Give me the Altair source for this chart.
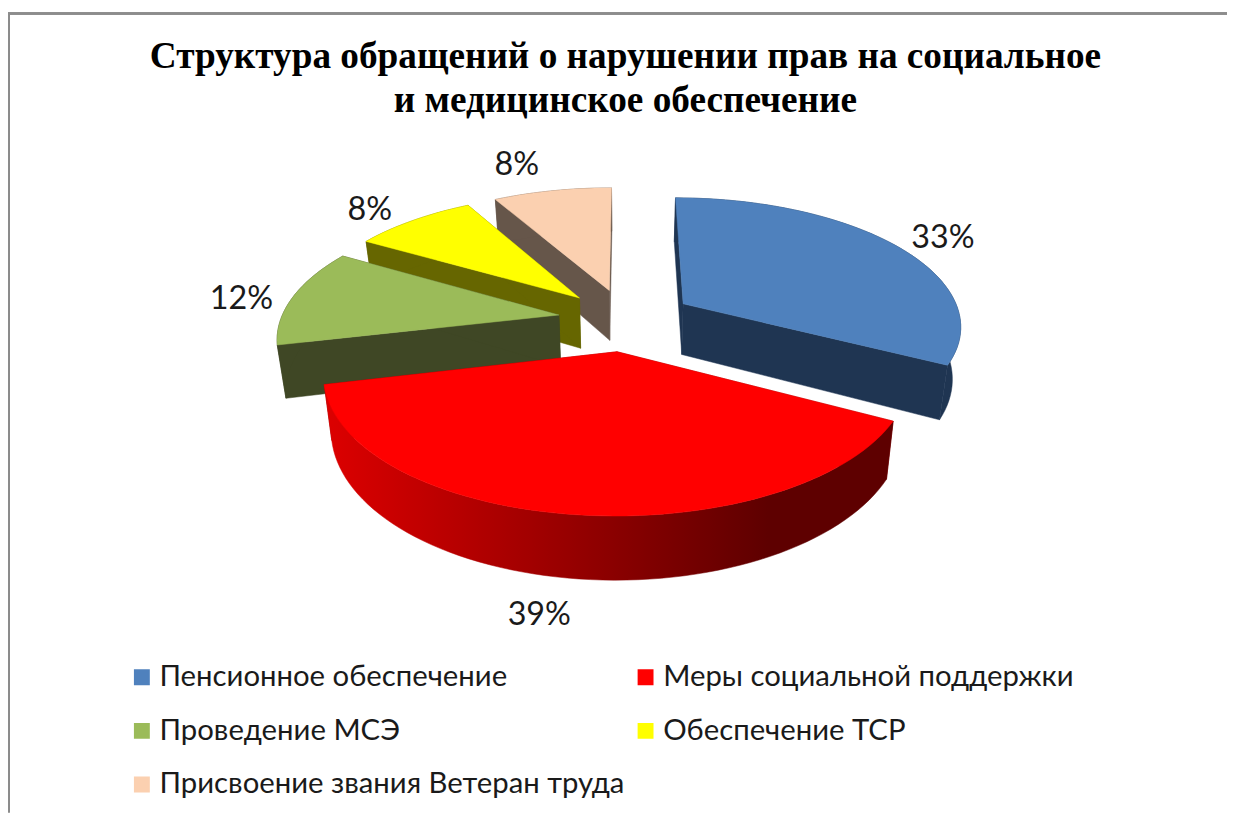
import math
import altair as alt
import pandas as pd

# ---- values ----
categories = ["Пенсионное обеспечение", "Меры социальной поддержки", "Проведение МСЭ",
              "Обеспечение ТСР", "Присвоение звания Ветеран труда"]
shares = [33, 39, 12, 8, 8]
top_colors = ["#4F81BD", "#FF0000", "#9BBB59", "#FFFF00", "#FBD0B0"]
wall_colors = ["#1F3552", "#8F0000", "#3F4725", "#666600", "#66564A"]
title_lines = ["Структура обращений о нарушении прав на социальное",
               "и медицинское обеспечение"]
# legend fills column by column, so this order reads row by row as in the picture
legend_order = [0, 2, 4, 1, 3]

# ---- 3-D pie projection (page pixels minus the 8px margin) ----
W, H = 1227, 807
CX, CY = 630 - 8, 319 - 8
RX, RY, K = 280, 128, 0.157
EXPLODE = 0.245
DEPTH, SHRINK = 52, 0.975
draw_order = [4, 3, 2, 0, 1]
edge_nudge = [0, -1, -2.5, -2, -0.5, 0]
label_nudge = {0: (9, 3), 1: (-23, -6), 2: (0, 6), 3: (-14, 3), 4: (-26, -9)}
label_radius = 1.2


def project(u, v):
    den = 1 - K * v
    return CX + RX * u / den, CY + RY * v / den


def lower(u, v):
    x, y = project(u, v)
    return CX + (x - CX) * SHRINK, y + DEPTH / (1 - K * v)


edges = [0.0]
for s in shares:
    edges.append(edges[-1] + s / sum(shares) * 360)
edges = [e + d for e, d in zip(edges, edge_nudge)]

top_rows, wall_rows, rim_rows, label_rows = [], [], [], []
for i, name in enumerate(categories):
    a, b = edges[i], edges[i + 1]
    mid = math.radians((a + b) / 2)
    u0, v0 = EXPLODE * math.sin(mid), -EXPLODE * math.cos(mid)
    n = max(2, int((b - a) / 2))
    thetas = [math.radians(a + (b - a) * j / n) for j in range(n + 1)]
    rim = [(u0 + math.sin(t), v0 - math.cos(t)) for t in thetas]

    for seq, uv in enumerate([(u0, v0)] + rim + [(u0, v0)]):
        x, y = project(*uv)
        top_rows.append(dict(slice=i, name=name, px=x, py=y, seq=seq))

    for part, end in enumerate([rim[0], rim[-1]]):
        pts = [project(u0, v0), project(*end), lower(*end), lower(u0, v0), project(u0, v0)]
        for seq, (x, y) in enumerate(pts):
            wall_rows.append(dict(slice=i, part=part, px=x, py=y, seq=seq, color=wall_colors[i]))

    outline = [project(*p) for p in rim] + [lower(*p) for p in reversed(rim)] + [project(*rim[0])]
    for seq, (x, y) in enumerate(outline):
        rim_rows.append(dict(slice=i, px=x, py=y, seq=seq))

    lu, lv = u0 + label_radius * math.sin(mid), v0 - label_radius * math.cos(mid)
    lx, ly = project(lu, lv) if i != 1 else lower(lu, lv)
    dx, dy = label_nudge[i]
    label_rows.append(dict(px=lx + dx, py=ly + dy, text=f"{shares[i]}%"))

tops = pd.DataFrame(top_rows)
walls = pd.DataFrame(wall_rows)
rims = pd.DataFrame(rim_rows)
labels = pd.DataFrame(label_rows)

xenc = alt.X("px:Q", axis=None, scale=alt.Scale(domain=[0, W], nice=False, zero=False))
yenc = alt.Y("py:Q", axis=None, scale=alt.Scale(domain=[0, H], reverse=True, nice=False, zero=False))
legend = alt.Legend(title=None, orient="none", legendX=120, legendY=655, columns=2,
                    symbolType="square", symbolSize=256, symbolStrokeWidth=0,
                    labelFont="Lato", labelFontSize=29.5, labelColor="#1A1A1A",
                    labelLimit=600, labelOffset=3, columnPadding=6, rowPadding=22,
                    clipHeight=32)
fill_scale = alt.Scale(domain=[categories[j] for j in legend_order],
                       range=[top_colors[j] for j in legend_order])

red_gradient = alt.Gradient(gradient="linear", x1=0, x2=1, y1=0, y2=0,
                            stops=[alt.GradientStop(offset=0, color="#DD0000"),
                                   alt.GradientStop(offset=0.78, color="#5E0000"),
                                   alt.GradientStop(offset=1, color="#5E0000")])

layers = []
for i in draw_order:
    layers.append(
        alt.Chart(walls[walls["slice"] == i]).mark_line(strokeWidth=0.5).encode(
            x=xenc, y=yenc, detail="part:N", order="seq:Q",
            fill=alt.Fill("color:N", scale=None), stroke=alt.Stroke("color:N", scale=None))
    )
    rim_fill = red_gradient if i == 1 else wall_colors[i]
    layers.append(
        alt.Chart(rims[rims["slice"] == i]).mark_line(fill=rim_fill, stroke=rim_fill, strokeWidth=0.5).encode(
            x=xenc, y=yenc, order="seq:Q")
    )
    layers.append(
        alt.Chart(tops[tops["slice"] == i]).mark_line(strokeWidth=0.5).encode(
            x=xenc, y=yenc, order="seq:Q",
            fill=alt.Fill("name:N", scale=fill_scale, legend=legend),
            stroke=alt.Stroke("name:N", scale=fill_scale, legend=None))
    )

label_layer = alt.Chart(labels).mark_text(font="Lato", fontSize=32.5, color="#1A1A1A").encode(
    x=xenc, y=yenc, text="text:N")

border_top = alt.Chart(labels).mark_rule(color="#8C8C8C", strokeWidth=2).encode(
    x=alt.value(0), x2=alt.value(W), y=alt.value(3))
border_left = alt.Chart(labels).mark_rule(color="#8C8C8C", strokeWidth=2).encode(
    x=alt.value(1), y=alt.value(3), y2=alt.value(H))

chart = alt.layer(border_top, border_left, *layers, label_layer).properties(
    width=W, height=H, padding=0, autosize=alt.AutoSizeParams(type="none"),
    background="white",
    title=alt.TitleParams(text=title_lines, font="Liberation Serif", fontSize=37.5, fontWeight="bold",
                          color="black", anchor="middle", frame="group", orient="top",
                          lineHeight=45, offset=-110, dx=8),
).resolve_scale(fill="shared", stroke="independent").configure_view(strokeWidth=0)

chart.save("out.html", embed_options={"renderer": "svg", "actions": False})
